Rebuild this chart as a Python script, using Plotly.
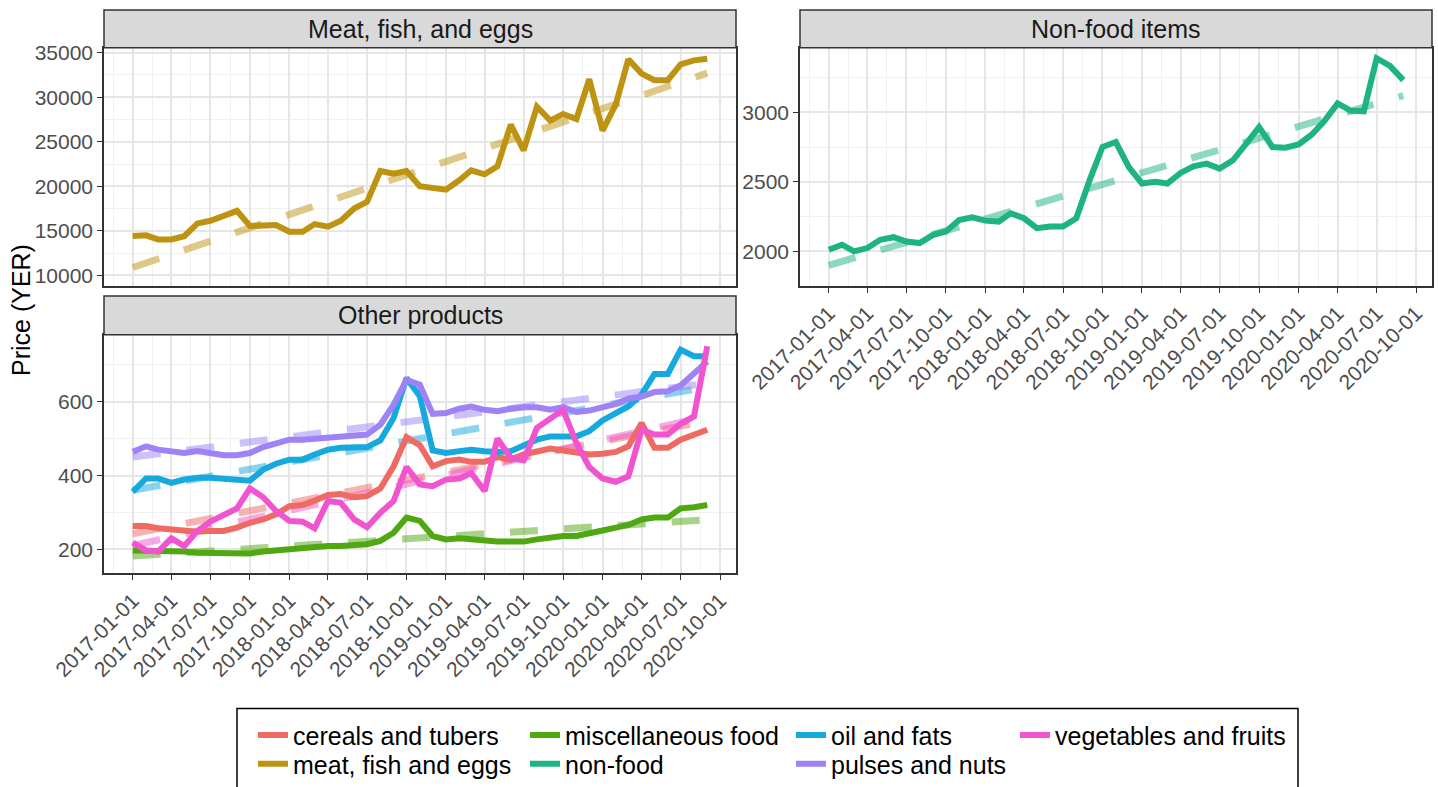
import pandas as pd
import plotly.graph_objects as go

# Monthly observations, Jan 2017 - Sep 2020
months = pd.date_range("2017-01-01", "2020-09-01", freq="MS")

meat_fish_eggs = [14430, 14500, 14050, 14050, 14400, 15840, 16140, 16660, 17250, 15550,
                  15650, 15650, 14910, 14910, 15770, 15480, 16140, 17510, 18260, 21720,
                  21420, 21720, 20010, 19860, 19630, 20680, 21800, 21350, 22240, 26930,
                  24030, 28940, 27380, 28120, 27560, 32020, 26260, 29230, 34250, 32650,
                  31910, 31910, 33700, 34140, 34330]

non_food = [2012, 2048, 2000, 2024, 2083, 2102, 2071, 2060, 2119, 2143,
            2226, 2245, 2221, 2214, 2274, 2238, 2167, 2179, 2179, 2238,
            2512, 2750, 2786, 2607, 2488, 2500, 2488, 2564, 2612, 2631,
            2595, 2655, 2774, 2893, 2750, 2745, 2769, 2840, 2936, 3064,
            3012, 3007, 3388, 3333, 3231]

cereals_tubers = [263, 263, 257, 254, 254, 248, 250, 250, 259, 272,
                  281, 295, 317, 320, 332, 347, 350, 341, 344, 365,
                  425, 504, 482, 425, 439, 443, 437, 437, 450, 443,
                  457, 466, 473, 468, 461, 457, 459, 464, 479, 542,
                  475, 475, 497, 509, 524]

misc_food = [197, 197, 195, 195, 194, 191, 191, 189, 189, 189,
             194, 197, 203, 206, 209, 209, 209, 212, 214, 223,
             245, 286, 277, 236, 227, 230, 227, 221, 221, 221,
             221, 227, 232, 236, 236, 242, 251, 259, 266, 281,
             286, 286, 311, 314, 320]

oil_fats = [356, 392, 392, 380, 389, 394, 394, 392, 389, 386,
            416, 432, 443, 443, 457, 470, 475, 475, 477, 495,
            556, 664, 615, 468, 461, 466, 470, 466, 464, 466,
            482, 497, 506, 506, 506, 520, 549, 569, 587, 619,
            675, 675, 741, 723, 723]

pulses_nuts = [464, 479, 470, 464, 461, 466, 461, 455, 455, 461,
               477, 488, 497, 497, 500, 500, 506, 506, 511, 538,
               592, 659, 646, 567, 569, 581, 587, 578, 574, 581,
               585, 585, 578, 585, 572, 576, 583, 594, 608, 614,
               626, 628, 644, 677, 709]

veg_fruits = [218, 197, 194, 230, 209, 250, 275, 295, 311, 365,
              341, 304, 277, 275, 257, 331, 326, 281, 260, 299,
              331, 423, 376, 371, 389, 392, 407, 358, 500, 448,
              441, 529, 554, 578, 488, 423, 392, 383, 398, 524,
              511, 511, 540, 560, 750]

# Linear trend values at the first and last month
meat_trend = [10900, 32700]
nonfood_trend = [1900, 3120]
cereals_trend = [242, 548]
misc_trend = [182, 280]
oil_trend = [360, 640]
pulses_trend = [450, 650]
veg_trend = [210, 560]

W, H = 1438, 787
FONT = "Liberation Sans, Arial, sans-serif"


def fx(x):
    return x / W


def fy(y):
    return 1 - y / H


series = [
    # name, values, trend, colour, axes, legend column, legend row
    ("meat, fish and eggs", meat_fish_eggs, meat_trend, "#BE9312", ("x", "y"), 0, 1),
    ("non-food", non_food, nonfood_trend, "#1DB482", ("x2", "y2"), 1, 1),
    ("cereals and tubers", cereals_tubers, cereals_trend, "#EE6A62", ("x3", "y3"), 0, 0),
    ("miscellaneous food", misc_food, misc_trend, "#4FA812", ("x3", "y3"), 1, 0),
    ("oil and fats", oil_fats, oil_trend, "#16A9DE", ("x3", "y3"), 2, 0),
    ("pulses and nuts", pulses_nuts, pulses_trend, "#9E82F6", ("x3", "y3"), 2, 1),
    ("vegetables and fruits", veg_fruits, veg_trend, "#F154CF", ("x3", "y3"), 3, 0),
]

legend_cols = [259, 531, 797, 1021]
legend_rows = [740, 769]

fig = go.Figure()

# dashed linear trends underneath
for name, vals, trend, col, (xa, ya), lc, lr in series:
    fig.add_trace(go.Scatter(
        x=[months[0], months[-1]], y=trend, mode="lines", xaxis=xa, yaxis=ya,
        line=dict(color=col, width=7, dash="28px,26px"), opacity=0.5,
        showlegend=False, hoverinfo="skip"))

# observed prices
legend_layouts = {}
for k, (name, vals, trend, col, (xa, ya), lc, lr) in enumerate(series):
    lname = "legend" if k == 0 else f"legend{k + 1}"
    fig.add_trace(go.Scatter(
        x=months, y=vals, mode="lines", name=name, xaxis=xa, yaxis=ya,
        line=dict(color=col, width=6), legend=lname))
    legend_layouts[lname] = dict(
        x=fx(legend_cols[lc] - 6), y=fy(legend_rows[lr]), xanchor="left", yanchor="middle",
        orientation="v", bgcolor="rgba(0,0,0,0)", borderwidth=0,
        font=dict(family=FONT, size=25, color="#000000"))

# axes
span = months[-1] - months[0]
x_lo = months[0] - span * 0.05
x_hi = months[-1] + span * 0.05
major = pd.date_range("2017-01-01", "2020-10-01", freq="3MS")
minor = [major[0] - (major[1] - major[0]) / 2] + [
    major[i] + (major[i + 1] - major[i]) / 2 for i in range(len(major) - 1)]

GRID_MAJOR = "#E6E6E6"
GRID_MINOR = "#F1F1F1"
FRAME = "#333333"
TICKFONT = dict(family=FONT, size=21, color="#4D4D4D")


def xaxis(domain, labels):
    return dict(
        type="date", domain=domain, range=[x_lo, x_hi], tickmode="array", tickvals=list(major),
        tickformat="%Y-%m-%d", tickangle=-45, showticklabels=labels,
        ticks="outside" if labels else "", ticklen=5, tickwidth=1.2, tickcolor=FRAME,
        showgrid=True, gridcolor=GRID_MAJOR, gridwidth=1.6,
        minor=dict(tickmode="array", tickvals=minor, showgrid=True,
                   gridcolor=GRID_MINOR, gridwidth=1.3),
        showline=True, mirror=True, linecolor=FRAME, linewidth=1.5,
        zeroline=False, automargin=False, tickfont=TICKFONT, fixedrange=True)


def yaxis(domain, rng, dtick, anchor):
    return dict(
        domain=domain, range=rng, anchor=anchor, tickmode="linear", tick0=0, dtick=dtick,
        tickformat="d", separatethousands=False,
        ticks="outside", ticklen=5, tickwidth=1.2, tickcolor=FRAME,
        showgrid=True, gridcolor=GRID_MAJOR, gridwidth=1.6,
        minor=dict(tickmode="linear", tick0=0, dtick=dtick / 2, showgrid=True,
                   gridcolor=GRID_MINOR, gridwidth=1.3),
        showline=True, mirror=True, linecolor=FRAME, linewidth=1.5,
        zeroline=False, automargin=False, tickfont=TICKFONT, fixedrange=True)


left = [fx(104), fx(736)]
right = [fx(800), fx(1432)]
top = [fy(288), fy(48)]
bottom = [fy(577), fy(337)]

fig.update_layout(
    xaxis=dict(xaxis(left, False), anchor="y"),
    yaxis=yaxis(top, [8800, 35560], 5000, "x"),
    xaxis2=dict(xaxis(right, True), anchor="y2"),
    yaxis2=yaxis(top, [1750, 3464], 500, "x2"),
    xaxis3=dict(xaxis(left, True), anchor="y3"),
    yaxis3=yaxis(bottom, [135, 781], 200, "x3"),
)

# facet strips
strips = [
    ("Meat, fish, and eggs", 104, 736, 10, 48),
    ("Non-food items", 800, 1432, 10, 48),
    ("Other products", 104, 736, 298, 337),
]
shapes = []
annotations = []
for label, x0, x1, y0, y1 in strips:
    shapes.append(dict(type="rect", xref="paper", yref="paper",
                       x0=fx(x0), x1=fx(x1), y0=fy(y1), y1=fy(y0),
                       fillcolor="#D9D9D9", line=dict(color=FRAME, width=1.5), layer="above"))
    annotations.append(dict(text=label, xref="paper", yref="paper",
                            x=fx((x0 + x1) / 2), y=fy((y0 + y1) / 2),
                            xanchor="center", yanchor="middle", showarrow=False,
                            font=dict(family=FONT, size=25, color="#1A1A1A")))

# shared y-axis title
annotations.append(dict(text="Price (YER)", xref="paper", yref="paper", x=fx(21), y=fy(312),
                        xanchor="center", yanchor="middle", textangle=-90, showarrow=False,
                        font=dict(family=FONT, size=25, color="#000000")))

# legend frame
shapes.append(dict(type="rect", xref="paper", yref="paper",
                   x0=fx(237), x1=fx(1298), y0=fy(805), y1=fy(713),
                   fillcolor="rgba(0,0,0,0)", line=dict(color="#000000", width=1.5)))

fig.update_layout(
    width=W, height=H, template="none",
    margin=dict(l=0, r=0, t=0, b=0),
    paper_bgcolor="white", plot_bgcolor="white",
    shapes=shapes, annotations=annotations,
    font=dict(family=FONT),
    **legend_layouts,
)

fig.write_html("out.html")
